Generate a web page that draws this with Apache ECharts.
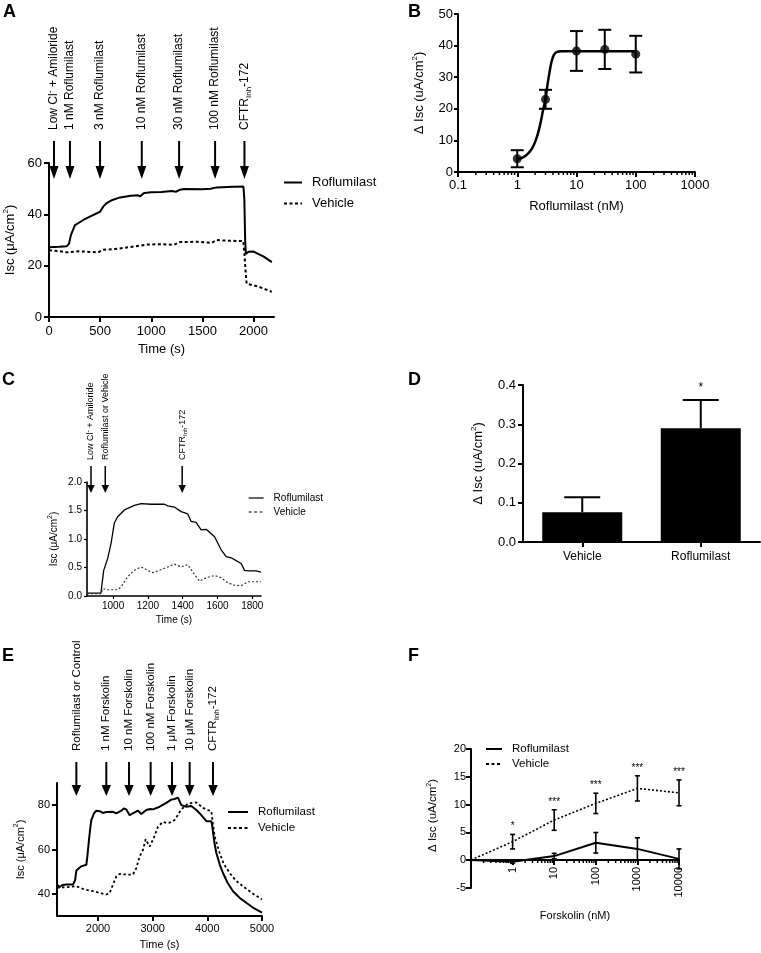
<!DOCTYPE html>
<html><head><meta charset="utf-8">
<script src="https://cdn.jsdelivr.net/npm/echarts@6/dist/echarts.min.js"></script>
<style>html,body{margin:0;padding:0;background:#fff}#c{width:761px;height:953px}</style>
</head><body><div id="c"></div>
<script>
const FONT = 'Liberation Sans, Arial, sans-serif';

// ---------- Panel A ----------
const aRoflumilast = [[0,27.2],[100,27.4],[173,27.6],[195,28.5],[215,32],[254,35.8],[336,37.8],[420,39.5],[499,41],[530,43],[564,44.4],[620,45.6],[695,46.6],[800,47.2],[870,47.4],[890,47.0],[930,48.3],[1000,48.6],[1100,48.7],[1200,49.1],[1240,48.8],[1282,49.6],[1320,49.9],[1500,49.8],[1580,50],[1640,50.5],[1800,50.7],[1901,50.8],[1910,46],[1918,30],[1925,24.5],[1950,25.4],[2000,25.5],[2100,23.5],[2179,21.4]];
const aVehicle = [[0,26],[100,25.7],[170,25.2],[300,25.6],[480,25.2],[530,26.2],[650,26.5],[800,27.3],[955,28.2],[1100,28.4],[1220,28.1],[1280,29.2],[1450,29.3],[1590,28.9],[1640,30],[1750,29.7],[1900,29.6],[1912,24],[1920,19],[1932,13],[2050,11.8],[2179,9.8]];
const aArrowX = [49,205,499,907,1272,1624,1911];
const aArrowLabels = ['Low Cl{sup|-} + Amiloride','1 nM Roflumilast','3 nM Roflumilast','10 nM Roflumilast','30 nM Roflumilast','100 nM Roflumilast','CFTR{sub|Inh}-172'];
const aXTicks = [0,500,1000,1500,2000];

// ---------- Panel B ----------
const bConc = [1,3,10,30,100];
const bMean = [4.2,23,38.3,38.8,37.3];
const bSem = [2.7,3,6.3,6.2,5.8];
const bFitX = [1,1.25,1.52,1.8,2.05,2.28,2.5,2.73,3,3.23,3.5,3.78,4.13,4.7,5.6,10,30,100];
const bFitY = [4,4.6,5.8,7.6,10,12.8,16,19.6,23,27.5,31.5,34.8,37,38,38.2,38.2,38.2,38.2];
const bXTicks = [0.1,1,10,100,1000];

// ---------- Panel C ----------
const cRoflumilast = [[850,0.05],[930,0.05],[946,0.45],[969,0.66],[988,0.92],[1007,1.28],[1026,1.39],[1065,1.51],[1122,1.59],[1161,1.62],[1218,1.61],[1257,1.61],[1295,1.61],[1314,1.58],[1352,1.56],[1391,1.48],[1429,1.44],[1448,1.31],[1477,1.29],[1506,1.16],[1535,1.17],[1583,1.04],[1621,0.81],[1650,0.69],[1679,0.67],[1707,0.62],[1736,0.57],[1755,0.45],[1784,0.44],[1822,0.44],[1850,0.42]];
const cVehicle = [[850,0.04],[930,0.04],[940,0.13],[969,0.11],[1026,0.11],[1046,0.16],[1084,0.34],[1122,0.45],[1161,0.51],[1199,0.45],[1228,0.41],[1257,0.44],[1314,0.51],[1352,0.56],[1391,0.51],[1429,0.55],[1458,0.42],[1496,0.26],[1535,0.32],[1583,0.36],[1621,0.32],[1660,0.23],[1698,0.19],[1736,0.18],[1775,0.25],[1850,0.25]];
const cArrowX = [873,955,1397];
const cArrowLabels = ['Low Cl{sup|-} + Amiloride','Roflumilast or Vehicle','CFTR{sub|Inh}-172'];
const cXTicks = [1000,1200,1400,1600,1800];

// ---------- Panel D ----------
const dCategories = ['Vehicle','Roflumilast'];
const dMean = [0.076,0.29];
const dSem = [0.038,0.072];
const dSig = ['','*'];

// ---------- Panel E ----------
const eRoflumilast = [[1250,44.2],[1299,43.1],[1350,44],[1421,44.2],[1543,44.2],[1580,46],[1604,50.5],[1695,52.4],[1787,53.1],[1810,58],[1835,64.3],[1860,70],[1878,73.3],[1930,76.5],[1970,77.5],[2030,77.3],[2090,76.5],[2152,76.9],[2274,77],[2335,76.3],[2427,77.5],[2470,78.5],[2518,78.1],[2579,75.5],[2671,76.7],[2732,77.5],[2793,76],[2884,77.8],[2960,78.3],[3006,78.1],[3128,79.3],[3250,81],[3341,82.5],[3400,82.8],[3463,83.4],[3524,80],[3616,79.3],[3707,79.6],[3799,77.8],[3890,75.5],[3982,72.8],[4073,72.8],[4091,70.3],[4130,63],[4165,58.4],[4230,53],[4287,49.4],[4370,45],[4470,41.2],[4590,38.2],[4713,36],[4850,33.5],[5000,31.5]];
const eVehicle = [[1250,42.7],[1400,43],[1604,43.4],[1750,42],[1909,41.2],[2050,40.3],[2152,39.7],[2213,40.4],[2274,44.2],[2335,47.9],[2396,49],[2470,48.8],[2549,48.7],[2640,48.7],[2701,51.6],[2762,56.9],[2823,59.9],[2872,64.6],[2945,61.3],[3018,65.1],[3098,70.3],[3189,72.5],[3250,72],[3311,72.1],[3402,73.3],[3524,78.1],[3646,80.7],[3720,81],[3799,81.2],[3860,80],[3921,78.8],[4012,77.8],[4073,77.3],[4100,72],[4134,65.8],[4226,58.4],[4300,53.5],[4409,49.4],[4520,46],[4652,43.4],[4820,40.3],[5000,37.5]];
const eArrowX = [1604,2152,2567,2963,3354,3677,4104];
const eArrowLabels = ['Roflumilast or Control','1 nM Forskolin','10 nM Forskolin','100 nM Forskolin','1 μM Forskolin','10 μM Forskolin','CFTR{sub|Inh}-172'];
const eXTicks = [2000,3000,4000,5000];
const eYTicks = [40,60,80];

// ---------- Panel F ----------
const fConc = [0.1,1,10,100,1000,10000];
const fRofMean = [0,-0.3,0.7,3.1,2.0,0.2];
const fRofSem = [0,0.3,0.5,1.85,2.0,1.8];
const fVehMean = [0,3.3,7.2,10.2,12.9,12.1];
const fVehSem = [0,1.3,1.85,1.83,2.27,2.33];
const fSig = ['','*','***','***','***','***'];
const fXTicks = [1,10,100,1000,10000];

// ---------- helpers ----------
function merge(a, b) {
  const out = Array.isArray(a) ? a.slice() : Object.assign({}, a);
  for (const k in b) {
    if (b[k] && typeof b[k] === 'object' && !Array.isArray(b[k]) && a[k] && typeof a[k] === 'object' && !Array.isArray(a[k])) out[k] = merge(a[k], b[k]);
    else out[k] = b[k];
  }
  return out;
}
const plain = v => String(v);
function axis(grid, fs, extra) {
  return merge({
    gridIndex: grid,
    axisLine: {show: true, onZero: false, lineStyle: {color: '#000', width: 2}},
    axisTick: {show: true, length: 5, lineStyle: {color: '#000', width: 2}},
    axisLabel: {color: '#000', fontSize: fs, fontFamily: FONT, formatter: plain},
    splitLine: {show: false},
    nameLocation: 'middle',
    nameTextStyle: {color: '#000', fontSize: fs, fontFamily: FONT}
  }, extra);
}
function unitName(prefix, fs) {
  return {
    name: '{t|' + prefix + '/cm}{s|2}{t|)}',
    nameTextStyle: {rich: {
      t: {fontSize: fs, fontFamily: FONT, color: '#000', lineHeight: fs + 4},
      s: {fontSize: Math.round(fs * 0.65), fontFamily: FONT, color: '#000', verticalAlign: 'top', lineHeight: fs + 4}
    }}
  };
}
function richFor(fs) {
  return {
    sub: {fontSize: Math.round(fs * 0.7), fontFamily: FONT, fill: '#000', verticalAlign: 'bottom'},
    sup: {fontSize: Math.round(fs * 0.75), fontFamily: FONT, fill: '#000', verticalAlign: 'top'}
  };
}
function arrowSeries(gi, xs, labels, topVal, g) {
  return {
    type: 'custom', name: 'arrows' + gi, xAxisIndex: gi, yAxisIndex: gi, silent: true, z: 5,
    dimensions: ['x'], encode: {x: 0},
    data: xs.map(v => [v]),
    renderItem: function (params, api) {
      const p = api.coord([api.value(0), topVal]);
      const x = p[0], y = p[1];
      return {type: 'group', children: [
        {type: 'line', shape: {x1: x, y1: y + g.shaftTop, x2: x, y2: y + g.headTop + 1}, style: {stroke: '#000', lineWidth: g.lw}},
        {type: 'polygon', shape: {points: [[x - g.hw, y + g.headTop], [x + g.hw, y + g.headTop], [x, y + g.tip]]}, style: {fill: '#000'}},
        {type: 'text', x: x, y: y + g.text, rotation: Math.PI / 2,
          style: {text: labels[params.dataIndex], fill: '#000', fontSize: g.fs, fontFamily: FONT, align: 'left', verticalAlign: 'middle', lineHeight: g.fs + 4, rich: richFor(g.fs)}}
      ]};
    }
  };
}
function errorSeries(gi, xs, means, sems, opt) {
  return {
    type: 'custom', name: 'err' + gi + (opt.id || ''), xAxisIndex: gi, yAxisIndex: gi, silent: true, z: 6,
    dimensions: ['x', 'm', 's'], encode: {x: 0, y: 1},
    data: xs.map((x, i) => [x, means[i], sems[i]]),
    renderItem: function (params, api) {
      const xv = api.value(0), m = api.value(1), s = api.value(2);
      const children = [];
      if (s > 0) {
        const top = api.coord([xv, m + s]);
        const bot = api.coord(opt.upOnly ? [xv, m] : [xv, m - s]);
        children.push({type: 'line', shape: {x1: top[0], y1: top[1], x2: bot[0], y2: bot[1]}, style: {stroke: '#000', lineWidth: opt.lw}});
        children.push({type: 'line', shape: {x1: top[0] - opt.cap, y1: top[1], x2: top[0] + opt.cap, y2: top[1]}, style: {stroke: '#000', lineWidth: opt.lw}});
        if (!opt.upOnly) children.push({type: 'line', shape: {x1: bot[0] - opt.cap, y1: bot[1], x2: bot[0] + opt.cap, y2: bot[1]}, style: {stroke: '#000', lineWidth: opt.lw}});
        if (opt.sig && opt.sig[params.dataIndex]) {
          children.push({type: 'text', x: top[0], y: top[1] - opt.sigGap, style: {text: opt.sig[params.dataIndex], fill: '#000', fontSize: opt.sigFs, fontFamily: FONT, align: 'center', verticalAlign: 'middle'}});
        }
      }
      return {type: 'group', children: children};
    }
  };
}
function minorTickSeries(gi, decades, yBase, len) {
  const vals = [];
  decades.forEach(d => { for (let k = 2; k <= 9; k++) vals.push([+(d * k).toPrecision(3)]); });
  return {
    type: 'custom', name: 'minor' + gi, xAxisIndex: gi, yAxisIndex: gi, silent: true, z: 4,
    dimensions: ['x'], encode: {x: 0}, data: vals,
    renderItem: function (params, api) {
      const p = api.coord([api.value(0), yBase]);
      return {type: 'line', shape: {x1: p[0], y1: p[1], x2: p[0], y2: p[1] + len}, style: {stroke: '#000', lineWidth: 1.5}};
    }
  };
}
function legend(left, top, fs, w, gap, lw) {
  return {
    left: left, top: top, orient: 'vertical', data: ['Roflumilast', 'Vehicle'],
    itemWidth: w, itemHeight: 10, itemGap: gap, selectedMode: false,
    lineStyle: {width: lw},
    itemStyle: {opacity: 0},
    textStyle: {color: '#000', fontSize: fs, fontFamily: FONT, padding: [0, 0, 0, 5]}
  };
}

const chart = echarts.init(document.getElementById('c'), null, {renderer: 'canvas'});
const option = {
  animation: false,
  backgroundColor: '#fff',
  grid: [
    {left: 49, top: 163, width: 225, height: 154},
    {left: 458, top: 14, width: 237, height: 158},
    {left: 87, top: 482, width: 174, height: 114},
    {left: 523, top: 385, width: 237, height: 157},
    {left: 57, top: 783, width: 205, height: 133},
    {left: 471, top: 749, width: 208, height: 111},
    {left: 471, top: 860, width: 208, height: 28}
  ],
  legend: [
    legend(278, 171, 13, 18, 8, 2),
    legend(243, 488, 10, 15, 4, 1.2),
    legend(222, 801, 11.5, 20, 4, 2),
    legend(480, 738, 11.5, 16, 3, 2)
  ],
  xAxis: [
    axis(0, 13, {type: 'value', min: 0, max: 2200, name: 'Time (s)', nameGap: 26,
      axisLabel: {customValues: aXTicks}, axisTick: {customValues: aXTicks}}),
    axis(1, 13, {type: 'log', logBase: 10, min: 0.1, max: 1000, name: 'Roflumilast (nM)', nameGap: 28,
      axisLabel: {customValues: bXTicks, margin: 7}, axisTick: {customValues: bXTicks}}),
    axis(2, 10, {type: 'value', min: 850, max: 1850, name: 'Time (s)', nameGap: 19,
      axisLine: {lineStyle: {width: 1.6}}, axisTick: {length: 3, customValues: cXTicks, lineStyle: {width: 1.2}},
      axisLabel: {customValues: cXTicks, margin: 5}}),
    axis(3, 12, {type: 'category', data: dCategories, axisTick: {alignWithLabel: true}, axisLabel: {margin: 9, formatter: null}}),
    axis(4, 11, {type: 'value', min: 1250, max: 5000, name: 'Time (s)', nameGap: 23,
      axisLabel: {customValues: eXTicks, margin: 7}, axisTick: {customValues: eXTicks}}),
    axis(5, 11, {type: 'log', logBase: 10, min: 0.1, max: 10000, name: 'Forskolin (nM)', nameGap: 50,
      axisLabel: {customValues: fXTicks, rotate: 90, margin: 7}, axisTick: {customValues: fXTicks}}),
    axis(6, 11, {type: 'log', logBase: 10, min: 0.1, max: 10000, show: false})
  ],
  yAxis: [
    axis(0, 13, merge({type: 'value', min: 0, max: 60, interval: 20, nameGap: 30, axisLabel: {margin: 7}}, unitName('Isc (μA', 13))),
    axis(1, 13, merge({type: 'value', min: 0, max: 50, interval: 10, nameGap: 30, axisTick: {length: 4}, axisLabel: {margin: 5}}, unitName('Δ Isc (uA', 13))),
    axis(2, 10, merge({type: 'value', min: 0, max: 2, interval: 0.5, nameGap: 26,
      axisLine: {lineStyle: {width: 1.6}}, axisTick: {length: 3, lineStyle: {width: 1.2}},
      axisLabel: {margin: 5, formatter: v => v.toFixed(1)}}, unitName('Isc (μA', 10))),
    axis(3, 13, merge({type: 'value', min: 0, max: 0.4, interval: 0.1, nameGap: 36,
      axisLabel: {margin: 7, formatter: v => v.toFixed(1)}}, unitName('Δ Isc (uA', 13))),
    axis(4, 11, merge({type: 'value', min: 30, max: 90, nameGap: 29,
      axisLabel: {customValues: eYTicks, margin: 7}, axisTick: {customValues: eYTicks}}, unitName('Isc (μA', 11))),
    axis(5, 11, merge(merge({type: 'value', min: 0, max: 20, interval: 5, nameGap: 30, axisLabel: {margin: 5}}, unitName('Δ Isc (uA', 11.5)),
      {nameTextStyle: {padding: [0, 22, 0, 0]}})),
    axis(6, 11, {type: 'value', min: -5, max: 0, axisLabel: {customValues: [-5], margin: 5}, axisTick: {customValues: [-5]}})
  ],
  graphic: [
    ['A', 3, 3], ['B', 408, 3], ['C', 2, 371], ['D', 408, 371], ['E', 2, 647], ['F', 408, 647]
  ].map(t => ({type: 'text', left: t[1], top: t[2], style: {text: t[0], fill: '#000', font: 'bold 18px ' + FONT}})),
  series: [
    // A
    {type: 'line', name: 'Roflumilast', xAxisIndex: 0, yAxisIndex: 0, data: aRoflumilast, symbol: 'none', lineStyle: {color: '#000', width: 2}, itemStyle: {color: '#000'}},
    {type: 'line', name: 'Vehicle', xAxisIndex: 0, yAxisIndex: 0, data: aVehicle, symbol: 'none', lineStyle: {color: '#000', width: 2, type: [3, 2.5]}, itemStyle: {color: '#000'}},
    arrowSeries(0, aArrowX, aArrowLabels, 60, {shaftTop: -22, headTop: 3, tip: 16, hw: 4.5, text: -33, fs: 12, lw: 2}),
    // B
    {type: 'line', name: 'fit', xAxisIndex: 1, yAxisIndex: 1, data: bFitX.map((x, i) => [x, bFitY[i]]), symbol: 'none', smooth: 0.3, lineStyle: {color: '#000', width: 2.5}},
    {type: 'scatter', name: 'points', xAxisIndex: 1, yAxisIndex: 1, data: bConc.map((x, i) => [x, bMean[i]]), symbolSize: 9, itemStyle: {color: '#000'}, z: 7},
    errorSeries(1, bConc, bMean, bSem, {lw: 2, cap: 6.5}),
    minorTickSeries(1, [0.1, 1, 10, 100], 0, 3),
    // C
    {type: 'line', name: 'Roflumilast', xAxisIndex: 2, yAxisIndex: 2, data: cRoflumilast, symbol: 'none', lineStyle: {color: '#000', width: 1.3}},
    {type: 'line', name: 'Vehicle', xAxisIndex: 2, yAxisIndex: 2, data: cVehicle, symbol: 'none', lineStyle: {color: '#333', width: 1.2, type: [2, 2]}},
    arrowSeries(2, cArrowX, cArrowLabels, 2, {shaftTop: -16, headTop: 3, tip: 11, hw: 3.7, text: -22, fs: 9, lw: 1.5}),
    // D
    {type: 'bar', name: 'dbar', xAxisIndex: 3, yAxisIndex: 3, data: dMean, barWidth: 80, itemStyle: {color: '#000'}},
    errorSeries(3, [0, 1], dMean, dSem, {lw: 2, cap: 18, upOnly: true, sig: dSig, sigGap: 12, sigFs: 12}),
    // E
    {type: 'line', name: 'Roflumilast', xAxisIndex: 4, yAxisIndex: 4, data: eRoflumilast, symbol: 'none', lineStyle: {color: '#000', width: 2}},
    {type: 'line', name: 'Vehicle', xAxisIndex: 4, yAxisIndex: 4, data: eVehicle, symbol: 'none', lineStyle: {color: '#000', width: 1.8, type: [2.5, 2.5]}},
    arrowSeries(4, eArrowX, eArrowLabels, 90, {shaftTop: -21, headTop: 2, tip: 13, hw: 4.7, text: -32, fs: 11.5, lw: 2}),
    // F
    {type: 'line', name: 'Roflumilast', xAxisIndex: 5, yAxisIndex: 5, clip: false, data: fConc.map((x, i) => [x, fRofMean[i]]), symbol: 'none', lineStyle: {color: '#000', width: 2}},
    {type: 'line', name: 'Vehicle', xAxisIndex: 5, yAxisIndex: 5, clip: false, data: fConc.map((x, i) => [x, fVehMean[i]]), symbol: 'none', lineStyle: {color: '#000', width: 1.6, type: [2, 2]}},
    errorSeries(5, fConc, fRofMean, fRofSem, {lw: 1.6, cap: 2.5, id: 'r'}),
    errorSeries(5, fConc, fVehMean, fVehSem, {lw: 1.6, cap: 2.5, id: 'v', sig: fSig, sigGap: 8, sigFs: 10}),
    minorTickSeries(5, [0.1, 1, 10, 100, 1000], 0, 3)
  ]
};
chart.setOption(option);
</script></body></html>
